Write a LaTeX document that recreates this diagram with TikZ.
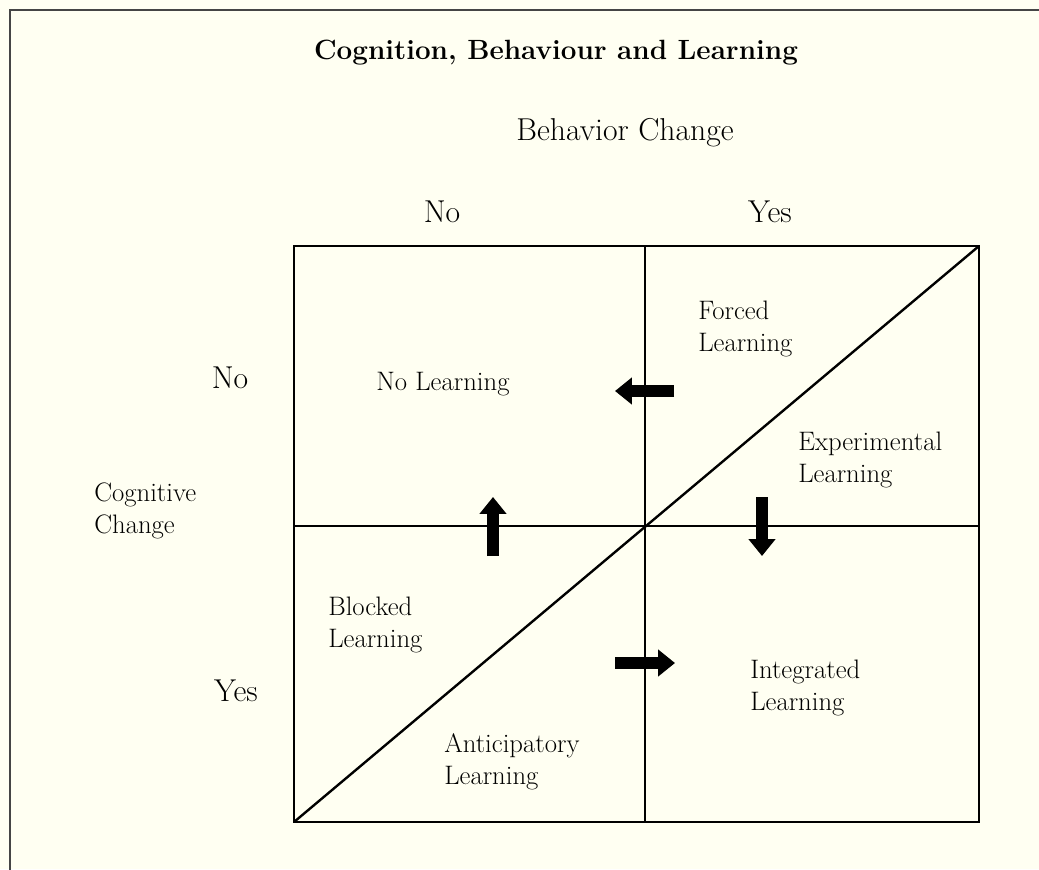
\documentclass[tikz,border=0pt]{standalone}
\usetikzlibrary{arrows.meta}
\definecolor{paper}{HTML}{FFFFF2}
\definecolor{framegray}{HTML}{454545}
\tikzset{
  lbl/.style={inner sep=0pt, font=\fontsize{19}{23}\selectfont},
  headlbl/.style={inner sep=0pt, font=\fontsize{22.5}{26}\selectfont},
  quadlbl/.style={lbl, align=left, anchor=west},
  gridline/.style={line width=1.7pt},
  blockarrow/.style={line width=9pt, -{Triangle[length=12pt,width=18.5pt]}}
}
\begin{document}
\begin{tikzpicture}[x=0.025cm,y=-0.025cm]
        % Page
        \fill[paper] (0,0) rectangle (1039,869);
        \useasboundingbox (0,0) rectangle (1039,869);
        \draw[framegray, line width=1.8pt] (10,880) -- (10,10) -- (1050,10);

        % Headings
        \node[lbl, font=\fontsize{19.8}{23}\selectfont\bfseries] (title) at (556,53) {Cognition, Behaviour and Learning};
        \node[headlbl] (behav) at (625,133) {Behavior Change};
        \node[headlbl] (colno) at (442,212) {No};
        \node[headlbl] (colyes) at (770,212) {Yes};
        \node[headlbl] (rowno) at (230,378) {No};
        \node[headlbl] (rowyes) at (236,691) {Yes};
        \node[quadlbl] (cogn) at (94,511) {Cognitive\\Change};

        % Grid
        \coordinate (nw) at (294,246);
        \coordinate (se) at (979,822);
        \draw[gridline] (nw) rectangle (se);
        \draw[gridline] (645,246) -- (645,822);
        \draw[gridline] (294,526) -- (979,526);
        \draw[gridline] (294,822) -- (979,246);

        % Quadrants
        \node[lbl] (nolearn) at (443,384) {No Learning};
        \node[quadlbl] (forced) at (698,329) {Forced\\Learning};
        \node[quadlbl] (experim) at (798,460) {Experimental\\Learning};
        \node[quadlbl] (blocked) at (328,625) {Blocked\\Learning};
        \node[quadlbl] (integ) at (750,688) {Integrated\\Learning};
        \node[quadlbl] (anticip) at (444,762) {Anticipatory\\Learning};

        % Arrows
        \draw[blockarrow] (674,391) -- (615,391);
        \draw[blockarrow] (493,556) -- (493,497);
        \draw[blockarrow] (762,497) -- (762,556);
        \draw[blockarrow] (615,663) -- (675,663);
    \end{tikzpicture}
\end{document}
